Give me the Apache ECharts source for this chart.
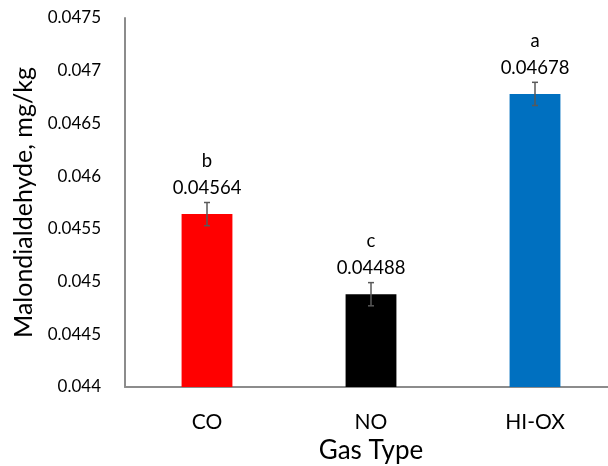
<!DOCTYPE html>
<html>
<head>
<meta charset="utf-8">
<script src="https://cdn.jsdelivr.net/npm/echarts@6/dist/echarts.min.js"></script>
<style>
  html, body { margin: 0; padding: 0; background: #fff; }
  #chart { width: 608px; height: 466px; }
</style>
</head>
<body>
<div id="chart"></div>
<script>
// Malondialdehyde by gas type
const categories = ['CO', 'NO', 'HI-OX'];
const mdaValues = [0.04564, 0.04488, 0.04678];
const mdaErrors = [0.00011, 0.00011, 0.00011];
const groupLetters = ['b', 'c', 'a'];
const barColors = ['#ff0000', '#000000', '#0070c0'];
const yTicks = ['0.044', '0.0445', '0.045', '0.0455', '0.046', '0.0465', '0.047', '0.0475'];

const FONT = 'Lato, "Open Sans", sans-serif';

const chart = echarts.init(document.getElementById('chart'), null, { renderer: 'canvas' });

const errorData = mdaValues.map((v, i) => [i, v, mdaErrors[i]]);

chart.setOption({
  animation: false,
  backgroundColor: '#ffffff',
  grid: { left: 125, top: 18, width: 492, height: 369, outerBoundsMode: 'none', containLabel: false },
  xAxis: {
    type: 'category',
    data: categories,
    axisLine: { show: true, lineStyle: { color: '#8c8c8c', width: 2 } },
    axisTick: { show: false },
    axisLabel: { color: '#000', fontSize: 21, fontFamily: FONT, margin: 25 },
    name: 'Gas Type',
    nameLocation: 'middle',
    nameGap: 50,
    nameTextStyle: { color: '#000', fontSize: 26, fontFamily: FONT }
  },
  yAxis: {
    type: 'value',
    min: 0.044,
    max: 0.0475,
    interval: 0.0005,
    axisLine: { show: true, lineStyle: { color: '#8c8c8c', width: 2 } },
    axisTick: { show: false },
    splitLine: { show: false },
    axisLabel: {
      color: '#000', fontSize: 17, fontFamily: FONT, margin: 24,
      formatter: (v) => {
        const idx = Math.round((v - 0.044) / 0.0005);
        return yTicks[idx] !== undefined ? yTicks[idx] : String(v);
      }
    },
    name: 'Malondialdehyde, mg/kg',
    nameLocation: 'middle',
    nameGap: 84,
    nameTextStyle: { color: '#000', fontSize: 25, fontFamily: FONT }
  },
  series: [
    {
      type: 'bar',
      data: mdaValues.map((v, i) => ({ value: v, itemStyle: { color: barColors[i] } })),
      barWidth: '31%'
    },
    {
      type: 'custom',
      data: errorData,
      z: 10,
      renderItem: (params, api) => {
        const x = api.value(0);
        const v = api.value(1);
        const e = api.value(2);
        const top = api.coord([x, v + e]);
        const bot = api.coord([x, v - e]);
        const cap = 3;
        const style = { stroke: '#595959', lineWidth: 1.5 };
        const letter = groupLetters[params.dataIndex];
        return {
          type: 'group',
          children: [
            { type: 'line', shape: { x1: top[0], y1: top[1], x2: bot[0], y2: bot[1] }, style },
            { type: 'line', shape: { x1: top[0] - cap, y1: top[1], x2: top[0] + cap, y2: top[1] }, style },
            { type: 'line', shape: { x1: bot[0] - cap, y1: bot[1], x2: bot[0] + cap, y2: bot[1] }, style },
            {
              type: 'text',
              style: {
                x: top[0], y: top[1] - 1,
                text: letter + '\n' + mdaValues[params.dataIndex].toFixed(5),
                align: 'center', verticalAlign: 'bottom',
                fill: '#000', fontSize: 18.5, fontFamily: FONT, lineHeight: 27
              }
            }
          ]
        };
      }
    }
  ]
});
</script>
</body>
</html>
